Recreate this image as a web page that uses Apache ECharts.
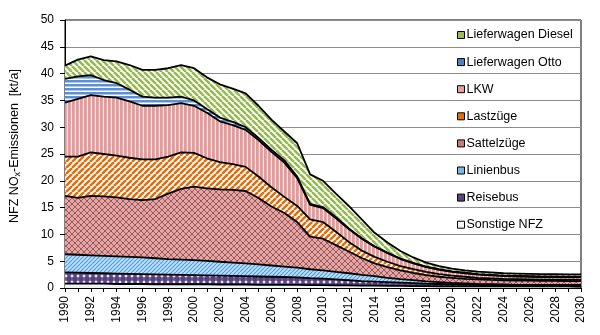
<!DOCTYPE html>
<html>
<head>
<meta charset="utf-8">
<script src="https://cdn.jsdelivr.net/npm/echarts@6/dist/echarts.min.js"></script>
<style>
html,body{margin:0;padding:0;background:#fff}
#chart{width:600px;height:335px}
</style>
</head>
<body>
<div id="chart"></div>
<script>
// Years on the category axis
const years = ['1990','1991','1992','1993','1994','1995','1996','1997','1998','1999',
  '2000','2001','2002','2003','2004','2005','2006','2007','2008','2009',
  '2010','2011','2012','2013','2014','2015','2016','2017','2018','2019',
  '2020','2021','2022','2023','2024','2025','2026','2027','2028','2029','2030'];

// NOx emissions per vehicle group [kt/a], stacked bottom to top
const sonstigeNFZ = [0.8,0.8,0.8,0.8,0.75,0.75,0.75,0.7,0.7,0.7,
  0.7,0.7,0.65,0.65,0.65,0.6,0.6,0.6,0.6,0.55,
  0.55,0.5,0.5,0.45,0.45,0.4,0.4,0.35,0.35,0.3,
  0.3,0.3,0.3,0.3,0.3,0.3,0.3,0.3,0.3,0.3,0.3];
const reisebus = [2.1,2.05,2.0,1.95,1.95,1.9,1.85,1.85,1.8,1.75,
  1.7,1.65,1.65,1.6,1.55,1.55,1.5,1.45,1.4,1.3,
  1.2,1.1,0.95,0.85,0.75,0.7,0.6,0.55,0.45,0.45,
  0.4,0.35,0.3,0.25,0.2,0.2,0.2,0.2,0.2,0.2,0.2];
const linienbus = [3.4,3.35,3.3,3.25,3.2,3.15,3.1,3.0,2.9,2.85,
  2.8,2.7,2.6,2.5,2.4,2.25,2.1,1.95,1.8,1.65,
  1.55,1.4,1.3,1.15,1.0,0.8,0.65,0.55,0.45,0.35,
  0.25,0.2,0.15,0.15,0.15,0.1,0.1,0.1,0.1,0.1,0.1];
const sattelzuege = [10.9,10.6,11.1,11.1,11.0,10.8,10.7,11.05,12.2,13.2,
  13.7,13.55,13.5,13.55,13.5,12.4,11.0,10.0,8.5,6.1,
  5.9,5.0,4.05,3.15,2.4,2.0,1.65,1.35,1.15,1.0,
  0.95,0.85,0.85,0.8,0.8,0.8,0.8,0.75,0.75,0.7,0.7];
const lastzuege = [7.3,7.7,8.1,7.9,7.8,7.7,7.6,7.4,6.9,6.8,
  6.3,5.6,5.1,4.8,4.5,4.0,3.6,3.0,3.0,3.2,
  3.1,2.5,1.8,1.4,1.2,1.0,0.8,0.7,0.6,0.5,
  0.4,0.4,0.3,0.3,0.25,0.25,0.2,0.2,0.2,0.2,0.2];
const lkw = [10.1,10.8,10.7,10.7,10.8,10.5,10.0,10.0,9.6,9.2,
  8.8,8.5,7.6,7.3,6.9,6.8,6.6,6.4,5.2,2.7,
  2.6,2.5,2.4,2.2,1.9,1.6,1.3,1.1,0.9,0.8,
  0.7,0.65,0.6,0.55,0.5,0.5,0.5,0.5,0.5,0.5,0.5];
const lieferwagenOtto = [4.4,4.2,3.7,3.1,2.7,2.2,1.7,1.5,1.4,1.2,
  1.0,0.7,0.7,0.6,0.5,0.4,0.4,0.4,0.3,0.2,
  0.2,0.2,0.1,0.1,0.1,0.1,0.1,0.1,0.1,0.1,
  0.1,0.1,0.1,0.1,0.1,0.1,0.1,0.1,0.1,0.1,0.1];
const lieferwagenDiesel = [2.5,3.1,3.5,3.7,4.1,4.6,5.0,5.2,5.5,5.9,
  6.0,5.9,6.2,6.2,6.3,6.0,5.6,5.4,6.2,5.5,
  4.9,4.4,4.2,3.5,2.5,1.9,1.4,1.0,0.75,0.6,
  0.5,0.45,0.45,0.45,0.45,0.45,0.45,0.45,0.45,0.45,0.45];

// Y axis scale
const yMin = 0, yMax = 50, yStep = 5;

// ---- fill patterns drawn on small canvas tiles ----
function tile(w, h, draw) {
  const c = document.createElement('canvas');
  c.width = w; c.height = h;
  const g = c.getContext('2d');
  draw(g, w, h);
  return { image: c, repeat: 'repeat' };
}
function diag(g, down, color, width, period) {
  g.strokeStyle = color; g.lineWidth = width;
  for (let k = -1; k <= 1; k++) {
    g.beginPath();
    if (down) { g.moveTo(k * period, 0); g.lineTo(k * period + period, period); }
    else { g.moveTo(k * period, period); g.lineTo(k * period + period, 0); }
    g.stroke();
  }
}
const fillDiesel = tile(6, 6, (g, w, h) => {
  g.fillStyle = '#ffffff'; g.fillRect(0, 0, w, h);
  diag(g, true, '#94b84e', 2.5, 6);
});
const fillOtto = tile(1, 4, (g) => {
  g.fillStyle = '#ffffff'; g.fillRect(0, 0, 1, 4);
  g.fillStyle = '#5b8fd6'; g.fillRect(0, 0, 1, 2.5);
});
const fillLkw = tile(4, 1, (g) => {
  g.fillStyle = '#fbe4e4'; g.fillRect(0, 0, 4, 1);
  g.fillStyle = '#e29a9a'; g.fillRect(0, 0, 2.8, 1);
});
const fillLast = tile(6, 6, (g, w, h) => {
  g.fillStyle = '#ffffff'; g.fillRect(0, 0, w, h);
  diag(g, false, '#e46c0a', 2.5, 6);
});
const fillSattel = tile(6, 6, (g, w, h) => {
  g.fillStyle = '#e6a4a4'; g.fillRect(0, 0, w, h);
  diag(g, true, '#8e5252', 0.9, 6);
  diag(g, false, '#8e5252', 0.9, 6);
});
const fillLinien = tile(4, 4, (g, w, h) => {
  g.fillStyle = '#c3def3'; g.fillRect(0, 0, w, h);
  diag(g, false, '#4aa2e0', 1.2, 4);
});
const fillReise = tile(6, 6, (g, w, h) => {
  g.fillStyle = '#cbbfdd'; g.fillRect(0, 0, w, h);
  g.fillStyle = '#54407c';
  g.beginPath(); g.arc(3, 3, 2.9, 0, Math.PI * 2); g.fill();
  g.fillStyle = '#f2eef7';
  g.beginPath(); g.arc(0, 0, 1.1, 0, Math.PI * 2); g.fill();
  g.beginPath(); g.arc(6, 0, 1.1, 0, Math.PI * 2); g.fill();
  g.beginPath(); g.arc(0, 6, 1.1, 0, Math.PI * 2); g.fill();
  g.beginPath(); g.arc(6, 6, 1.1, 0, Math.PI * 2); g.fill();
});
const fillSonst = tile(4, 4, (g, w, h) => {
  g.fillStyle = '#eef3f3'; g.fillRect(0, 0, w, h);
});

const layers = [
  { name: 'Sonstige NFZ', data: sonstigeNFZ, fill: fillSonst, icon: '#f4f6f6' },
  { name: 'Reisebus', data: reisebus, fill: fillReise, icon: '#5a4583' },
  { name: 'Linienbus', data: linienbus, fill: fillLinien, icon: '#7ab8e6' },
  { name: 'Sattelzüge', data: sattelzuege, fill: fillSattel, icon: '#c47c7c' },
  { name: 'Lastzüge', data: lastzuege, fill: fillLast, icon: '#e46c0a' },
  { name: 'LKW', data: lkw, fill: fillLkw, icon: '#e6a0a0' },
  { name: 'Lieferwagen Otto', data: lieferwagenOtto, fill: fillOtto, icon: '#4f81bd' },
  { name: 'Lieferwagen Diesel', data: lieferwagenDiesel, fill: fillDiesel, icon: '#9bbb59' }
];

const font = '"Liberation Sans", Arial, sans-serif';

const chart = echarts.init(document.getElementById('chart'), null, { renderer: 'canvas' });
chart.setOption({
  animation: false,
  backgroundColor: '#ffffff',
  grid: { left: 57, right: 19, top: 20, bottom: 47, show: true, borderColor: '#000', borderWidth: 1, backgroundColor: 'transparent' },
  legend: {
    orient: 'vertical',
    left: 452, top: 23,
    itemWidth: 7, itemHeight: 7,
    itemGap: 13.1,
    icon: 'rect',
    textStyle: { fontFamily: font, fontSize: 12.5, color: '#000', lineHeight: 14, padding: [0, 0, 0, -3] },
    data: layers.slice().reverse().map(l => ({
      name: l.name,
      itemStyle: { color: l.icon, borderColor: '#000', borderWidth: 1 }
    }))
  },
  xAxis: {
    type: 'category',
    data: years,
    boundaryGap: false,
    axisLine: { lineStyle: { color: '#000', width: 1 } },
    axisTick: { show: true, interval: 0, length: 4, lineStyle: { color: '#000' } },
    axisLabel: { interval: 1, rotate: 90, fontFamily: font, fontSize: 12, color: '#000', margin: 8 },
    splitLine: { show: false }
  },
  yAxis: {
    type: 'value',
    min: yMin, max: yMax, interval: yStep,
    name: '{a|NFZ NO}{s|x}{a|-Emissionen  [kt/a]}',
    nameLocation: 'middle',
    nameGap: 43,
    nameRotate: 90,
    nameTextStyle: {
      padding: [0, 0, 0, 16],
      rich: {
        a: { fontFamily: font, fontSize: 12.5, color: '#000' },
        s: { fontFamily: font, fontSize: 9, color: '#000', verticalAlign: 'bottom', padding: [6, 0, 0, 0] }
      }
    },
    axisLine: { show: true, lineStyle: { color: '#000', width: 1 } },
    axisTick: { show: true, length: 5, lineStyle: { color: '#000' } },
    axisLabel: { fontFamily: font, fontSize: 12, color: '#000', margin: 11 },
    splitLine: { show: true, lineStyle: { color: '#8c8c8c', width: 1 } }
  },
  series: layers.map(l => ({
    name: l.name,
    type: 'line',
    stack: 'nfz',
    data: l.data,
    symbol: 'none',
    smooth: false,
    itemStyle: { color: l.icon },
    lineStyle: { color: '#000', width: 1.8 },
    areaStyle: { color: l.fill, opacity: 1 }
  }))
});
</script>
</body>
</html>
